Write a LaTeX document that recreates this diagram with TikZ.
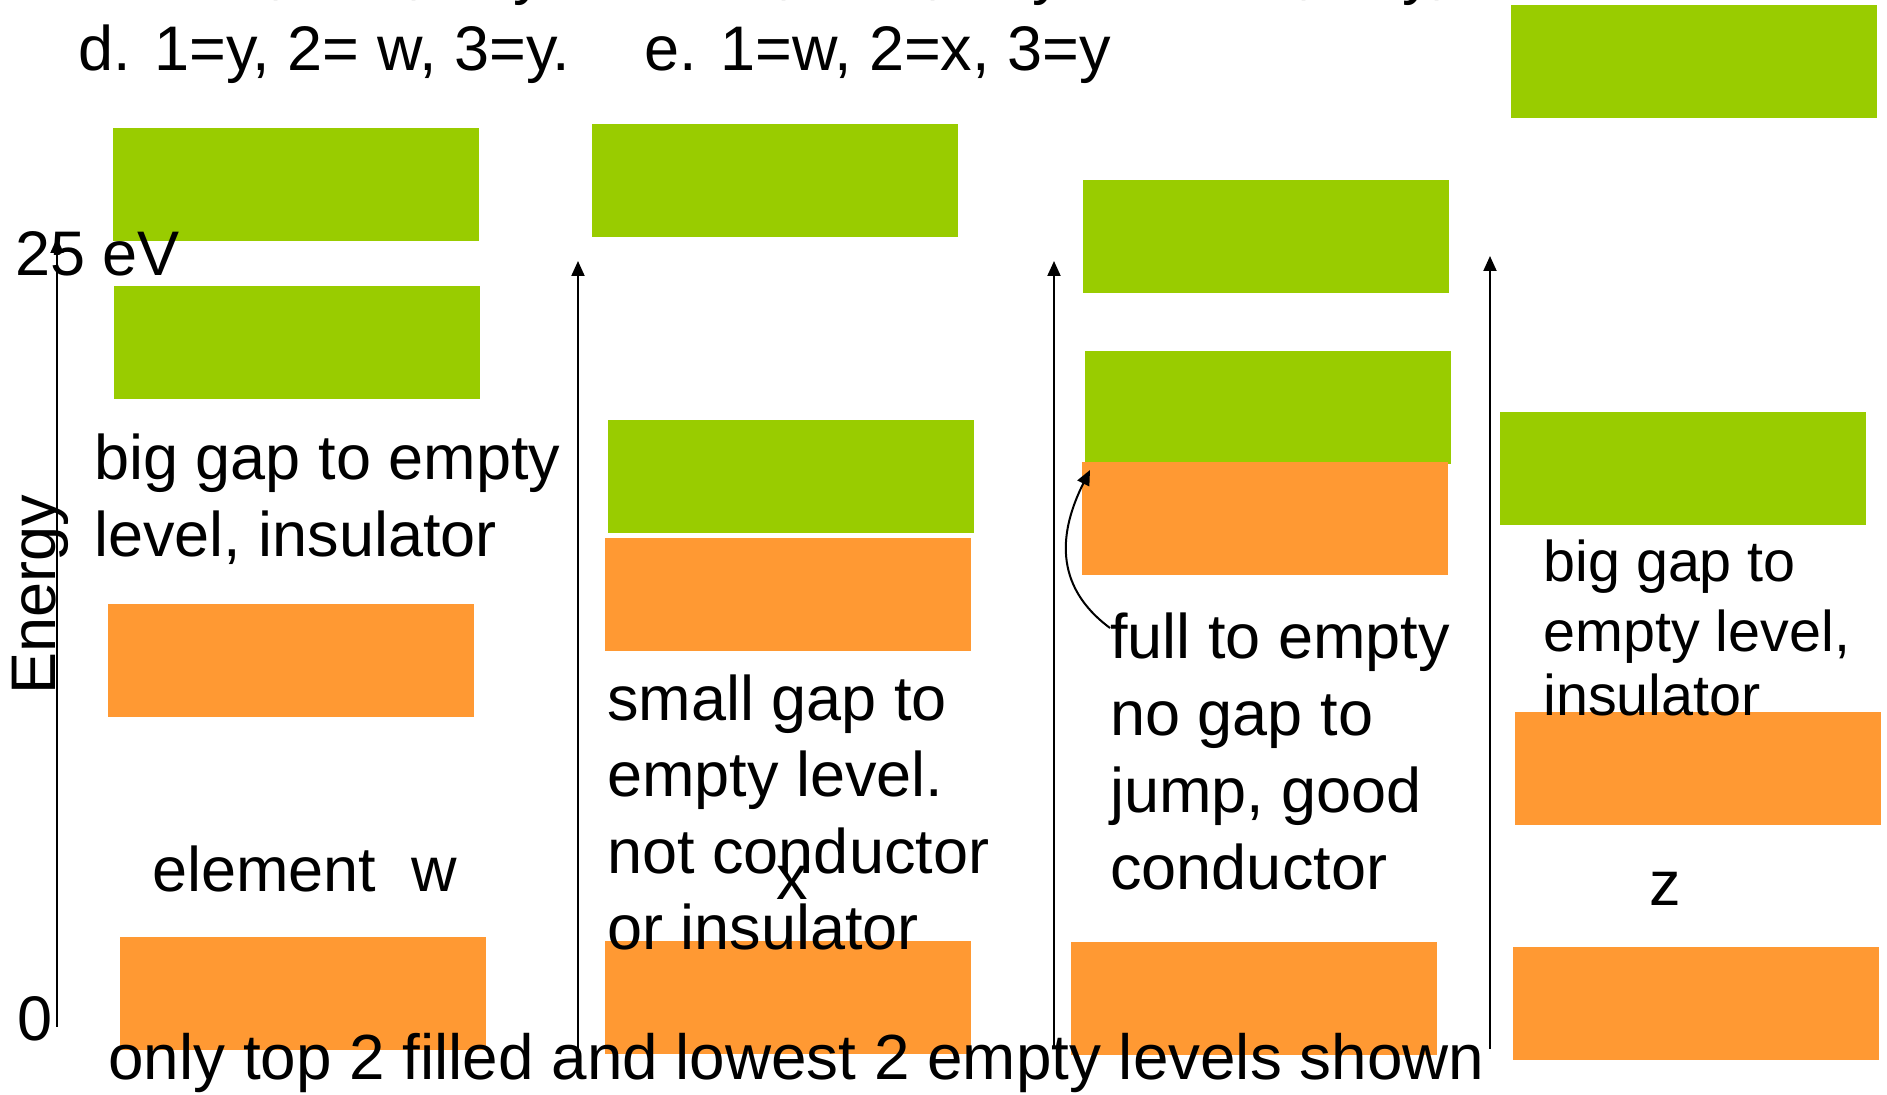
\documentclass[tikz,border=0pt]{standalone}
\usepackage{fontspec}
\setmainfont{Liberation Sans}
\usetikzlibrary{arrows.meta}

\definecolor{bandgreen}{RGB}{153,204,0}
\definecolor{bandorange}{RGB}{255,153,51}

\tikzset{
  band/.style={draw=none, inner sep=0pt, outer sep=0pt, anchor=north west,
               minimum width=183pt, minimum height=56.5pt},
  emptyband/.style={band, fill=bandgreen},
  fullband/.style={band, fill=bandorange},
  txt/.style={font=\fontsize{31.5pt}{38.5pt}\selectfont, inner sep=0pt, anchor=base west},
  smalltxt/.style={font=\fontsize{28.75pt}{35pt}\selectfont, inner sep=0pt, anchor=base west},
  axis/.style={line width=1pt, -{Triangle[length=7.5pt,width=6.5pt]}},
  jump/.style={line width=1pt, -{Triangle[length=7.5pt,width=6.5pt]}}
}

\begin{document}
\begin{tikzpicture}[x=0.5pt,y=-0.5pt]
\useasboundingbox (0,0) rectangle (1887,1095);

% answer choices running off the top edge
\node[txt] (qa) at (78,-7) {a. 1=w, 2=x, 3=y};
\node[txt] (qb) at (597,-7) {b. 1=x, 2=w, 3=y};
\node[txt] (qc) at (1120,-7) {c. 1=z, 2=y, 3=x};
\node[txt] (qd) at (78,71) {d. 1=y, 2= w, 3=y.};
\node[txt] (qe) at (644,71) {e. 1=w, 2=x, 3=y};

% element w
\node[emptyband] (w4) at (113,128) {};
\node[emptyband] (w3) at (114,286) {};
\node[fullband]  (w2) at (108,604) {};
\node[fullband]  (w1) at (120,937) {};

% element x
\node[emptyband] (x4) at (592,124) {};
\node[emptyband] (x3) at (608,420) {};
\node[fullband]  (x2) at (605,538) {};
\node[fullband]  (x1) at (605,941) {};

% element y
\node[emptyband] (y4) at (1083,180) {};
\node[emptyband] (y3) at (1085,351) {};
\node[fullband]  (y2) at (1082,462) {};
\node[fullband]  (y1) at (1071,942) {};

% element z
\node[emptyband] (z4) at (1511,5) {};
\node[emptyband] (z3) at (1500,412) {};
\node[fullband]  (z2) at (1515,712) {};
\node[fullband]  (z1) at (1513,947) {};

% energy scale
\node[txt] (top) at (15,276) {25 eV};
\node[txt] (zero) at (17,1041) {0};
\node[txt, rotate=90] (energy) at (55,695) {Energy};

% labels for w
\node[txt] (wa) at (94,480) {big gap to empty};
\node[txt] (wb) at (94,557) {level, insulator};
\node[txt] (wname) at (152,892) {element~~w};

% labels for x
\node[txt] (xa) at (607,721) {small gap to};
\node[txt] (xb) at (607,797) {empty level.};
\node[txt] (xc) at (607,874) {not conductor};
\node[txt] (xd) at (607,950) {or insulator};
\node[txt, anchor=base] (xname) at (792,900) {x};

% labels for y
\node[txt] (ya) at (1110,659) {full to empty};
\node[txt] (yb) at (1110,736) {no gap to};
\node[txt] (yc) at (1110,813) {jump, good};
\node[txt] (yd) at (1110,890) {conductor};

% labels for z
\node[smalltxt] (za) at (1543,582) {big gap to};
\node[smalltxt] (zb) at (1543,652) {empty level,};
\node[smalltxt] (zc) at (1543,716) {insulator};
\node[txt, anchor=base] (zname) at (1665,906) {z};

\node[txt, font=\fontsize{31.9pt}{38.5pt}\selectfont] (note) at (108,1080)
  {only top 2 filled and lowest 2 empty levels shown};

% energy axes
\coordinate (a1b) at (57,1027);  \coordinate (a1t) at (57,238);
\coordinate (a2b) at (578,1049); \coordinate (a2t) at (578,261);
\coordinate (a3b) at (1054,1048);\coordinate (a3t) at (1054,261);
\coordinate (a4b) at (1490,1049);\coordinate (a4t) at (1490,256);
\draw[axis] (a1b) -- (a1t);
\draw[axis] (a2b) -- (a2t);
\draw[axis] (a3b) -- (a3t);
\draw[axis] (a4b) -- (a4t);

% electron jump from full to empty level
\coordinate (js) at (1110,628);
\coordinate (je) at (1090,470);
\draw[jump] (js) .. controls (1052,585) and (1060,530) .. (je);
\end{tikzpicture}
\end{document}
